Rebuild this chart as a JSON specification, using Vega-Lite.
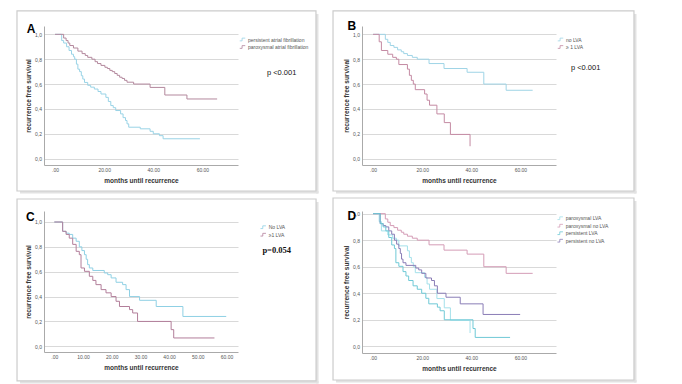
{
  "$schema": "https://vega.github.io/schema/vega-lite/v6.json",
  "background": "white",
  "padding": {"left": 16, "top": 10, "right": 0, "bottom": 0},
  "spacing": 3,
  "datasets": {
    "a": [
      {"g": "persistent atrial fibrillation", "t": 0, "s": 1},
      {"g": "persistent atrial fibrillation", "t": 2.7, "s": 0.95},
      {"g": "persistent atrial fibrillation", "t": 3.5, "s": 0.93},
      {"g": "persistent atrial fibrillation", "t": 4.7, "s": 0.9},
      {"g": "persistent atrial fibrillation", "t": 5.7, "s": 0.87},
      {"g": "persistent atrial fibrillation", "t": 6.7, "s": 0.84},
      {"g": "persistent atrial fibrillation", "t": 7.5, "s": 0.82},
      {"g": "persistent atrial fibrillation", "t": 8, "s": 0.8},
      {"g": "persistent atrial fibrillation", "t": 8.7, "s": 0.76},
      {"g": "persistent atrial fibrillation", "t": 9.3, "s": 0.72},
      {"g": "persistent atrial fibrillation", "t": 10, "s": 0.7},
      {"g": "persistent atrial fibrillation", "t": 10.7, "s": 0.667},
      {"g": "persistent atrial fibrillation", "t": 11.3, "s": 0.64},
      {"g": "persistent atrial fibrillation", "t": 12, "s": 0.613},
      {"g": "persistent atrial fibrillation", "t": 13.3, "s": 0.59},
      {"g": "persistent atrial fibrillation", "t": 14.5, "s": 0.575},
      {"g": "persistent atrial fibrillation", "t": 16, "s": 0.56},
      {"g": "persistent atrial fibrillation", "t": 17.5, "s": 0.54},
      {"g": "persistent atrial fibrillation", "t": 18.7, "s": 0.52},
      {"g": "persistent atrial fibrillation", "t": 20.7, "s": 0.493},
      {"g": "persistent atrial fibrillation", "t": 21.7, "s": 0.46},
      {"g": "persistent atrial fibrillation", "t": 22.7, "s": 0.427},
      {"g": "persistent atrial fibrillation", "t": 23.7, "s": 0.41},
      {"g": "persistent atrial fibrillation", "t": 24.7, "s": 0.387},
      {"g": "persistent atrial fibrillation", "t": 26.7, "s": 0.36},
      {"g": "persistent atrial fibrillation", "t": 27.7, "s": 0.33},
      {"g": "persistent atrial fibrillation", "t": 28.7, "s": 0.307},
      {"g": "persistent atrial fibrillation", "t": 29.3, "s": 0.28},
      {"g": "persistent atrial fibrillation", "t": 30, "s": 0.253},
      {"g": "persistent atrial fibrillation", "t": 34.7, "s": 0.24},
      {"g": "persistent atrial fibrillation", "t": 38.7, "s": 0.22},
      {"g": "persistent atrial fibrillation", "t": 40, "s": 0.2},
      {"g": "persistent atrial fibrillation", "t": 42.5, "s": 0.185},
      {"g": "persistent atrial fibrillation", "t": 44, "s": 0.16},
      {"g": "persistent atrial fibrillation", "t": 59, "s": 0.16},
      {"g": "paroxysmal atrial fibrillation", "t": 0, "s": 1},
      {"g": "paroxysmal atrial fibrillation", "t": 3.5, "s": 0.97},
      {"g": "paroxysmal atrial fibrillation", "t": 4.5, "s": 0.95},
      {"g": "paroxysmal atrial fibrillation", "t": 5.3, "s": 0.93},
      {"g": "paroxysmal atrial fibrillation", "t": 6, "s": 0.91},
      {"g": "paroxysmal atrial fibrillation", "t": 7.5, "s": 0.89},
      {"g": "paroxysmal atrial fibrillation", "t": 9.3, "s": 0.865},
      {"g": "paroxysmal atrial fibrillation", "t": 11, "s": 0.845},
      {"g": "paroxysmal atrial fibrillation", "t": 12.3, "s": 0.83},
      {"g": "paroxysmal atrial fibrillation", "t": 13.3, "s": 0.815},
      {"g": "paroxysmal atrial fibrillation", "t": 15, "s": 0.8},
      {"g": "paroxysmal atrial fibrillation", "t": 16.3, "s": 0.78},
      {"g": "paroxysmal atrial fibrillation", "t": 17.3, "s": 0.765},
      {"g": "paroxysmal atrial fibrillation", "t": 18.7, "s": 0.75},
      {"g": "paroxysmal atrial fibrillation", "t": 20.3, "s": 0.735},
      {"g": "paroxysmal atrial fibrillation", "t": 21.3, "s": 0.725},
      {"g": "paroxysmal atrial fibrillation", "t": 22.3, "s": 0.71},
      {"g": "paroxysmal atrial fibrillation", "t": 23.3, "s": 0.7},
      {"g": "paroxysmal atrial fibrillation", "t": 24.3, "s": 0.685},
      {"g": "paroxysmal atrial fibrillation", "t": 25.3, "s": 0.67},
      {"g": "paroxysmal atrial fibrillation", "t": 26.3, "s": 0.655},
      {"g": "paroxysmal atrial fibrillation", "t": 27.3, "s": 0.645},
      {"g": "paroxysmal atrial fibrillation", "t": 28.3, "s": 0.63},
      {"g": "paroxysmal atrial fibrillation", "t": 29.3, "s": 0.615},
      {"g": "paroxysmal atrial fibrillation", "t": 32, "s": 0.6},
      {"g": "paroxysmal atrial fibrillation", "t": 38.7, "s": 0.573},
      {"g": "paroxysmal atrial fibrillation", "t": 44.7, "s": 0.512},
      {"g": "paroxysmal atrial fibrillation", "t": 53.7, "s": 0.48},
      {"g": "paroxysmal atrial fibrillation", "t": 66, "s": 0.48}
    ],
    "b": [
      {"g": "no LVA", "d": "paroxysmal no LVA", "t": 0, "s": 1},
      {"g": "no LVA", "d": "paroxysmal no LVA", "t": 5, "s": 0.96},
      {"g": "no LVA", "d": "paroxysmal no LVA", "t": 6, "s": 0.935},
      {"g": "no LVA", "d": "paroxysmal no LVA", "t": 7, "s": 0.91},
      {"g": "no LVA", "d": "paroxysmal no LVA", "t": 8.5, "s": 0.895},
      {"g": "no LVA", "d": "paroxysmal no LVA", "t": 10, "s": 0.875},
      {"g": "no LVA", "d": "paroxysmal no LVA", "t": 11.5, "s": 0.86},
      {"g": "no LVA", "d": "paroxysmal no LVA", "t": 12.5, "s": 0.845},
      {"g": "no LVA", "d": "paroxysmal no LVA", "t": 14, "s": 0.83},
      {"g": "no LVA", "d": "paroxysmal no LVA", "t": 16, "s": 0.815},
      {"g": "no LVA", "d": "paroxysmal no LVA", "t": 18, "s": 0.8},
      {"g": "no LVA", "d": "paroxysmal no LVA", "t": 22.8, "s": 0.765},
      {"g": "no LVA", "d": "paroxysmal no LVA", "t": 28.9, "s": 0.725},
      {"g": "no LVA", "d": "paroxysmal no LVA", "t": 38.3, "s": 0.695},
      {"g": "no LVA", "d": "paroxysmal no LVA", "t": 45.1, "s": 0.6},
      {"g": "no LVA", "d": "paroxysmal no LVA", "t": 54.2, "s": 0.55},
      {"g": "no LVA", "d": "paroxysmal no LVA", "t": 65, "s": 0.55},
      {"g": "≥ 1 LVA", "d": "paroxysmal LVA", "t": 0, "s": 1},
      {"g": "≥ 1 LVA", "d": "paroxysmal LVA", "t": 2.5, "s": 0.94},
      {"g": "≥ 1 LVA", "d": "paroxysmal LVA", "t": 3.4, "s": 0.87},
      {"g": "≥ 1 LVA", "d": "paroxysmal LVA", "t": 6, "s": 0.84},
      {"g": "≥ 1 LVA", "d": "paroxysmal LVA", "t": 8, "s": 0.815},
      {"g": "≥ 1 LVA", "d": "paroxysmal LVA", "t": 9.5, "s": 0.8},
      {"g": "≥ 1 LVA", "d": "paroxysmal LVA", "t": 10.5, "s": 0.757},
      {"g": "≥ 1 LVA", "d": "paroxysmal LVA", "t": 14, "s": 0.72},
      {"g": "≥ 1 LVA", "d": "paroxysmal LVA", "t": 14.8, "s": 0.67},
      {"g": "≥ 1 LVA", "d": "paroxysmal LVA", "t": 15.6, "s": 0.63},
      {"g": "≥ 1 LVA", "d": "paroxysmal LVA", "t": 16.4, "s": 0.6},
      {"g": "≥ 1 LVA", "d": "paroxysmal LVA", "t": 17.2, "s": 0.555},
      {"g": "≥ 1 LVA", "d": "paroxysmal LVA", "t": 21, "s": 0.52},
      {"g": "≥ 1 LVA", "d": "paroxysmal LVA", "t": 22, "s": 0.47},
      {"g": "≥ 1 LVA", "d": "paroxysmal LVA", "t": 23, "s": 0.43},
      {"g": "≥ 1 LVA", "d": "paroxysmal LVA", "t": 26, "s": 0.36},
      {"g": "≥ 1 LVA", "d": "paroxysmal LVA", "t": 29, "s": 0.29},
      {"g": "≥ 1 LVA", "d": "paroxysmal LVA", "t": 31.5, "s": 0.195},
      {"g": "≥ 1 LVA", "d": "paroxysmal LVA", "t": 39.5, "s": 0.1}
    ],
    "c": [
      {"g": "No LVA", "d": "persistent no LVA", "t": 0, "s": 1},
      {"g": "No LVA", "d": "persistent no LVA", "t": 2.9, "s": 0.925},
      {"g": "No LVA", "d": "persistent no LVA", "t": 4.1, "s": 0.91},
      {"g": "No LVA", "d": "persistent no LVA", "t": 5.2, "s": 0.9},
      {"g": "No LVA", "d": "persistent no LVA", "t": 6.4, "s": 0.87},
      {"g": "No LVA", "d": "persistent no LVA", "t": 7.6, "s": 0.845},
      {"g": "No LVA", "d": "persistent no LVA", "t": 8.7, "s": 0.8},
      {"g": "No LVA", "d": "persistent no LVA", "t": 9.6, "s": 0.77},
      {"g": "No LVA", "d": "persistent no LVA", "t": 10.5, "s": 0.737},
      {"g": "No LVA", "d": "persistent no LVA", "t": 11.1, "s": 0.7},
      {"g": "No LVA", "d": "persistent no LVA", "t": 11.6, "s": 0.657},
      {"g": "No LVA", "d": "persistent no LVA", "t": 12.2, "s": 0.63},
      {"g": "No LVA", "d": "persistent no LVA", "t": 13.4, "s": 0.61},
      {"g": "No LVA", "d": "persistent no LVA", "t": 17.4, "s": 0.59},
      {"g": "No LVA", "d": "persistent no LVA", "t": 18.6, "s": 0.576},
      {"g": "No LVA", "d": "persistent no LVA", "t": 19.8, "s": 0.55},
      {"g": "No LVA", "d": "persistent no LVA", "t": 21.5, "s": 0.515},
      {"g": "No LVA", "d": "persistent no LVA", "t": 23.8, "s": 0.496},
      {"g": "No LVA", "d": "persistent no LVA", "t": 25, "s": 0.456},
      {"g": "No LVA", "d": "persistent no LVA", "t": 26.2, "s": 0.4},
      {"g": "No LVA", "d": "persistent no LVA", "t": 29.7, "s": 0.37},
      {"g": "No LVA", "d": "persistent no LVA", "t": 35.5, "s": 0.32},
      {"g": "No LVA", "d": "persistent no LVA", "t": 44.8, "s": 0.24},
      {"g": "No LVA", "d": "persistent no LVA", "t": 59.9, "s": 0.24},
      {"g": "≥1 LVA", "d": "persistent LVA", "t": 0, "s": 1},
      {"g": "≥1 LVA", "d": "persistent LVA", "t": 2.9, "s": 0.925},
      {"g": "≥1 LVA", "d": "persistent LVA", "t": 4.1, "s": 0.9},
      {"g": "≥1 LVA", "d": "persistent LVA", "t": 5.2, "s": 0.87},
      {"g": "≥1 LVA", "d": "persistent LVA", "t": 6.4, "s": 0.82},
      {"g": "≥1 LVA", "d": "persistent LVA", "t": 7.6, "s": 0.764},
      {"g": "≥1 LVA", "d": "persistent LVA", "t": 8.7, "s": 0.737},
      {"g": "≥1 LVA", "d": "persistent LVA", "t": 9.3, "s": 0.63},
      {"g": "≥1 LVA", "d": "persistent LVA", "t": 10.5, "s": 0.603},
      {"g": "≥1 LVA", "d": "persistent LVA", "t": 12.2, "s": 0.563},
      {"g": "≥1 LVA", "d": "persistent LVA", "t": 13.4, "s": 0.53},
      {"g": "≥1 LVA", "d": "persistent LVA", "t": 14.5, "s": 0.496},
      {"g": "≥1 LVA", "d": "persistent LVA", "t": 16.3, "s": 0.456},
      {"g": "≥1 LVA", "d": "persistent LVA", "t": 18, "s": 0.43},
      {"g": "≥1 LVA", "d": "persistent LVA", "t": 19.8, "s": 0.4},
      {"g": "≥1 LVA", "d": "persistent LVA", "t": 21.5, "s": 0.362},
      {"g": "≥1 LVA", "d": "persistent LVA", "t": 22.7, "s": 0.32},
      {"g": "≥1 LVA", "d": "persistent LVA", "t": 26.2, "s": 0.295},
      {"g": "≥1 LVA", "d": "persistent LVA", "t": 27.3, "s": 0.268},
      {"g": "≥1 LVA", "d": "persistent LVA", "t": 29, "s": 0.2},
      {"g": "≥1 LVA", "d": "persistent LVA", "t": 40.7, "s": 0.134},
      {"g": "≥1 LVA", "d": "persistent LVA", "t": 41.6, "s": 0.067},
      {"g": "≥1 LVA", "d": "persistent LVA", "t": 55.8, "s": 0.067}
    ]
  },
  "config": {
    "view": {"stroke": null},
    "font": "Liberation Sans",
    "axis": {
      "labelFont": "Liberation Sans", "labelFontSize": 5, "labelColor": "#555555", "labelOverlap": false,
      "titleFont": "Liberation Sans", "titleFontSize": 6.5, "titleFontWeight": "bold", "titleColor": "#333333",
      "ticks": false, "domainColor": "#aaaaaa", "domainWidth": 1, "gridColor": "#d9d9d9", "gridWidth": 1
    },
    "axisX": {"grid": false, "labelPadding": 2.5, "titlePadding": 5},
    "axisY": {"grid": true, "labelPadding": 2.5, "titlePadding": 3},
    "legend": {
      "labelFont": "Liberation Sans", "labelFontSize": 5, "labelColor": "#555555",
      "symbolType": "M-1,0.5H-0.15V-0.5H1", "symbolSize": 30, "symbolStrokeWidth": 0.8,
      "rowPadding": 0.5, "labelOffset": 2
    }
  },
  "resolve": {"scale": {"x": "independent", "y": "independent", "color": "independent"}},
  "vconcat": [
    {
      "spacing": 13,
      "resolve": {"scale": {"x": "independent", "y": "independent", "color": "independent"}},
      "hconcat": [
        {
          "width": 194, "height": 139,
          "layer": [
            {
              "data": {"name": "a"},
              "mark": {"type": "line", "interpolate": "step-after", "strokeWidth": 1},
              "encoding": {
                "x": {"field": "t", "type": "quantitative", "scale": {"domain": [-4.5, 74.5], "nice": false, "zero": false},
                      "axis": {"title": "months until recurrence", "values": [0, 20, 40, 60], "labelExpr": "datum.value == 0 ? '.00' : format(datum.value, '.2f')"}},
                "y": {"field": "s", "type": "quantitative", "scale": {"domain": [-0.051, 1.067], "nice": false, "zero": false},
                      "axis": {"title": "recurrence free survival", "values": [0, 0.2, 0.4, 0.6, 0.8, 1], "labelExpr": "replace(format(datum.value, '.1f'), '.', ',')"}},
                "color": {"field": "g", "type": "nominal",
                          "scale": {"domain": ["persistent atrial fibrillation", "paroxysmal atrial fibrillation"], "range": ["#99d3e6", "#b3889d"]},
                          "legend": {"title": null, "orient": "right", "padding": 10, "offset": -9.5}}
              }
            },
            {
              "data": {"values": [{}]},
              "mark": {"type": "rect", "fill": "#e2e2e2", "x2Offset": 2.5, "yOffset": 3, "y2Offset": 2.5},
              "encoding": {
                "x": {"datum": 106.25, "type": "quantitative", "axis": {"title": "months until recurrence", "values": [0, 20, 40, 60], "labelExpr": "datum.value == 0 ? '.00' : format(datum.value, '.2f')"}},
                "x2": {"datum": 106.25},
                "y": {"datum": 1.188, "type": "quantitative", "axis": {"title": "recurrence free survival", "values": [0, 0.2, 0.4, 0.6, 0.8, 1], "labelExpr": "replace(format(datum.value, '.1f'), '.', ',')"}},
                "y2": {"datum": -0.26}}
            },
            {
              "data": {"values": [{}]},
              "mark": {"type": "rect", "fill": "#e2e2e2", "xOffset": 3, "x2Offset": 2.5, "y2Offset": 2.5},
              "encoding": {
                "x": {"datum": -15.5, "type": "quantitative", "axis": {"title": "months until recurrence", "values": [0, 20, 40, 60], "labelExpr": "datum.value == 0 ? '.00' : format(datum.value, '.2f')"}},
                "x2": {"datum": 106.25},
                "y": {"datum": -0.26, "type": "quantitative", "axis": {"title": "recurrence free survival", "values": [0, 0.2, 0.4, 0.6, 0.8, 1], "labelExpr": "replace(format(datum.value, '.1f'), '.', ',')"}},
                "y2": {"datum": -0.26}}
            },
            {
              "data": {"values": [{}]},
              "mark": {"type": "rect", "fill": null, "stroke": "#cccccc", "strokeWidth": 1.2},
              "encoding": {
                "x": {"datum": -15.5, "type": "quantitative", "axis": {"title": "months until recurrence", "values": [0, 20, 40, 60], "labelExpr": "datum.value == 0 ? '.00' : format(datum.value, '.2f')"}},
                "x2": {"datum": 106.25},
                "y": {"datum": 1.188, "type": "quantitative", "axis": {"title": "recurrence free survival", "values": [0, 0.2, 0.4, 0.6, 0.8, 1], "labelExpr": "replace(format(datum.value, '.1f'), '.', ',')"}},
                "y2": {"datum": -0.26}}
            },
            {
              "data": {"values": [{}]},
              "mark": {"type": "text", "text": "A", "fontSize": 12, "fontWeight": "bold", "color": "#000000", "align": "center", "baseline": "middle"},
              "encoding": {
                "x": {"datum": -9.8, "type": "quantitative", "axis": {"title": "months until recurrence", "values": [0, 20, 40, 60], "labelExpr": "datum.value == 0 ? '.00' : format(datum.value, '.2f')"}},
                "y": {"datum": 1.043, "type": "quantitative", "axis": {"title": "recurrence free survival", "values": [0, 0.2, 0.4, 0.6, 0.8, 1], "labelExpr": "replace(format(datum.value, '.1f'), '.', ',')"}}}
            },
            {
              "data": {"values": [{}]},
              "mark": {"type": "text", "text": "p <0.001", "fontSize": 7.5, "color": "#111111", "align": "left", "baseline": "middle"},
              "encoding": {
                "x": {"datum": 86.3, "type": "quantitative", "axis": {"title": "months until recurrence", "values": [0, 20, 40, 60], "labelExpr": "datum.value == 0 ? '.00' : format(datum.value, '.2f')"}},
                "y": {"datum": 0.689, "type": "quantitative", "axis": {"title": "recurrence free survival", "values": [0, 0.2, 0.4, 0.6, 0.8, 1], "labelExpr": "replace(format(datum.value, '.1f'), '.', ',')"}}}
            }
          ]
        },
        {
          "width": 194, "height": 139,
          "layer": [
            {
              "data": {"name": "b"},
              "mark": {"type": "line", "interpolate": "step-after", "strokeWidth": 1},
              "encoding": {
                "x": {"field": "t", "type": "quantitative", "scale": {"domain": [-4.5, 74.5], "nice": false, "zero": false},
                      "axis": {"title": "months until recurrence", "values": [0, 20, 40, 60], "labelExpr": "datum.value == 0 ? '.00' : format(datum.value, '.2f')"}},
                "y": {"field": "s", "type": "quantitative", "scale": {"domain": [-0.051, 1.067], "nice": false, "zero": false},
                      "axis": {"title": "recurrence free survival", "values": [0, 0.2, 0.4, 0.6, 0.8, 1], "labelExpr": "replace(format(datum.value, '.1f'), '.', ',')"}},
                "color": {"field": "g", "type": "nominal",
                          "scale": {"domain": ["no LVA", "≥ 1 LVA"], "range": ["#9fd4e6", "#c48aa3"]},
                          "legend": {"title": null, "orient": "right", "padding": 10, "offset": -9.5}}
              }
            },
            {
              "data": {"values": [{}]},
              "mark": {"type": "rect", "fill": "#e2e2e2", "x2Offset": 2.5, "yOffset": 3, "y2Offset": 2.5},
              "encoding": {
                "x": {"datum": 106.25, "type": "quantitative", "axis": {"title": "months until recurrence", "values": [0, 20, 40, 60], "labelExpr": "datum.value == 0 ? '.00' : format(datum.value, '.2f')"}},
                "x2": {"datum": 106.25},
                "y": {"datum": 1.188, "type": "quantitative", "axis": {"title": "recurrence free survival", "values": [0, 0.2, 0.4, 0.6, 0.8, 1], "labelExpr": "replace(format(datum.value, '.1f'), '.', ',')"}},
                "y2": {"datum": -0.26}}
            },
            {
              "data": {"values": [{}]},
              "mark": {"type": "rect", "fill": "#e2e2e2", "xOffset": 3, "x2Offset": 2.5, "y2Offset": 2.5},
              "encoding": {
                "x": {"datum": -16.3, "type": "quantitative", "axis": {"title": "months until recurrence", "values": [0, 20, 40, 60], "labelExpr": "datum.value == 0 ? '.00' : format(datum.value, '.2f')"}},
                "x2": {"datum": 106.25},
                "y": {"datum": -0.26, "type": "quantitative", "axis": {"title": "recurrence free survival", "values": [0, 0.2, 0.4, 0.6, 0.8, 1], "labelExpr": "replace(format(datum.value, '.1f'), '.', ',')"}},
                "y2": {"datum": -0.26}}
            },
            {
              "data": {"values": [{}]},
              "mark": {"type": "rect", "fill": null, "stroke": "#cccccc", "strokeWidth": 1.2},
              "encoding": {
                "x": {"datum": -16.3, "type": "quantitative", "axis": {"title": "months until recurrence", "values": [0, 20, 40, 60], "labelExpr": "datum.value == 0 ? '.00' : format(datum.value, '.2f')"}},
                "x2": {"datum": 106.25},
                "y": {"datum": 1.188, "type": "quantitative", "axis": {"title": "recurrence free survival", "values": [0, 0.2, 0.4, 0.6, 0.8, 1], "labelExpr": "replace(format(datum.value, '.1f'), '.', ',')"}},
                "y2": {"datum": -0.26}}
            },
            {
              "data": {"values": [{}]},
              "mark": {"type": "text", "text": "B", "fontSize": 12, "fontWeight": "bold", "color": "#000000", "align": "center", "baseline": "middle"},
              "encoding": {
                "x": {"datum": -8.6, "type": "quantitative", "axis": {"title": "months until recurrence", "values": [0, 20, 40, 60], "labelExpr": "datum.value == 0 ? '.00' : format(datum.value, '.2f')"}},
                "y": {"datum": 1.069, "type": "quantitative", "axis": {"title": "recurrence free survival", "values": [0, 0.2, 0.4, 0.6, 0.8, 1], "labelExpr": "replace(format(datum.value, '.1f'), '.', ',')"}}}
            },
            {
              "data": {"values": [{}]},
              "mark": {"type": "text", "text": "p <0.001", "fontSize": 7.5, "color": "#111111", "align": "left", "baseline": "middle"},
              "encoding": {
                "x": {"datum": 80.6, "type": "quantitative", "axis": {"title": "months until recurrence", "values": [0, 20, 40, 60], "labelExpr": "datum.value == 0 ? '.00' : format(datum.value, '.2f')"}},
                "y": {"datum": 0.732, "type": "quantitative", "axis": {"title": "recurrence free survival", "values": [0, 0.2, 0.4, 0.6, 0.8, 1], "labelExpr": "replace(format(datum.value, '.1f'), '.', ',')"}}}
            }
          ]
        }
      ]
    },
    {
      "spacing": 13,
      "resolve": {"scale": {"x": "independent", "y": "independent", "color": "independent"}},
      "hconcat": [
        {
          "width": 194, "height": 141,
          "layer": [
            {
              "data": {"name": "c"},
              "mark": {"type": "line", "interpolate": "step-after", "strokeWidth": 1},
              "encoding": {
                "x": {"field": "t", "type": "quantitative", "scale": {"domain": [-3.6, 64], "nice": false, "zero": false},
                      "axis": {"title": "months until recurrence", "values": [0, 10, 20, 30, 40, 50, 60], "labelExpr": "datum.value == 0 ? '.00' : format(datum.value, '.2f')"}},
                "y": {"field": "s", "type": "quantitative", "scale": {"domain": [-0.046, 1.0885], "nice": false, "zero": false},
                      "axis": {"title": "recurrence free survival", "values": [0, 0.2, 0.4, 0.6, 0.8, 1], "labelExpr": "replace(format(datum.value, '.1f'), '.', ',')"}},
                "color": {"field": "g", "type": "nominal",
                          "scale": {"domain": ["No LVA", "≥1 LVA"], "range": ["#8fd0e4", "#b27e9a"]},
                          "legend": {"title": null, "orient": "right", "padding": 12.7, "offset": 9.3}}
              }
            },
            {
              "data": {"values": [{}]},
              "mark": {"type": "rect", "fill": "#e2e2e2", "x2Offset": 2.5, "yOffset": 3, "y2Offset": 2.5},
              "encoding": {
                "x": {"datum": 91.2, "type": "quantitative", "axis": {"title": "months until recurrence", "values": [0, 10, 20, 30, 40, 50, 60], "labelExpr": "datum.value == 0 ? '.00' : format(datum.value, '.2f')"}},
                "x2": {"datum": 91.2},
                "y": {"datum": 1.185, "type": "quantitative", "axis": {"title": "recurrence free survival", "values": [0, 0.2, 0.4, 0.6, 0.8, 1], "labelExpr": "replace(format(datum.value, '.1f'), '.', ',')"}},
                "y2": {"datum": -0.279}}
            },
            {
              "data": {"values": [{}]},
              "mark": {"type": "rect", "fill": "#e2e2e2", "xOffset": 3, "x2Offset": 2.5, "y2Offset": 2.5},
              "encoding": {
                "x": {"datum": -13.0, "type": "quantitative", "axis": {"title": "months until recurrence", "values": [0, 10, 20, 30, 40, 50, 60], "labelExpr": "datum.value == 0 ? '.00' : format(datum.value, '.2f')"}},
                "x2": {"datum": 91.2},
                "y": {"datum": -0.279, "type": "quantitative", "axis": {"title": "recurrence free survival", "values": [0, 0.2, 0.4, 0.6, 0.8, 1], "labelExpr": "replace(format(datum.value, '.1f'), '.', ',')"}},
                "y2": {"datum": -0.279}}
            },
            {
              "data": {"values": [{}]},
              "mark": {"type": "rect", "fill": null, "stroke": "#cccccc", "strokeWidth": 1.2},
              "encoding": {
                "x": {"datum": -13.0, "type": "quantitative", "axis": {"title": "months until recurrence", "values": [0, 10, 20, 30, 40, 50, 60], "labelExpr": "datum.value == 0 ? '.00' : format(datum.value, '.2f')"}},
                "x2": {"datum": 91.2},
                "y": {"datum": 1.185, "type": "quantitative", "axis": {"title": "recurrence free survival", "values": [0, 0.2, 0.4, 0.6, 0.8, 1], "labelExpr": "replace(format(datum.value, '.1f'), '.', ',')"}},
                "y2": {"datum": -0.279}}
            },
            {
              "data": {"values": [{}]},
              "mark": {"type": "text", "text": "C", "fontSize": 12, "fontWeight": "bold", "color": "#000000", "align": "center", "baseline": "middle"},
              "encoding": {
                "x": {"datum": -8.4, "type": "quantitative", "axis": {"title": "months until recurrence", "values": [0, 10, 20, 30, 40, 50, 60], "labelExpr": "datum.value == 0 ? '.00' : format(datum.value, '.2f')"}},
                "y": {"datum": 1.0386, "type": "quantitative", "axis": {"title": "recurrence free survival", "values": [0, 0.2, 0.4, 0.6, 0.8, 1], "labelExpr": "replace(format(datum.value, '.1f'), '.', ',')"}}}
            },
            {
              "data": {"values": [{}]},
              "mark": {"type": "text", "text": "p=0.054", "font": "Liberation Serif", "fontWeight": "bold", "fontSize": 8.5, "color": "#111111", "align": "left", "baseline": "middle"},
              "encoding": {
                "x": {"datum": 72.5, "type": "quantitative", "axis": {"title": "months until recurrence", "values": [0, 10, 20, 30, 40, 50, 60], "labelExpr": "datum.value == 0 ? '.00' : format(datum.value, '.2f')"}},
                "y": {"datum": 0.776, "type": "quantitative", "axis": {"title": "recurrence free survival", "values": [0, 0.2, 0.4, 0.6, 0.8, 1], "labelExpr": "replace(format(datum.value, '.1f'), '.', ',')"}}}
            }
          ]
        },
        {
          "width": 194, "height": 142,
          "layer": [
            {
              "data": {"name": "b"},
              "mark": {"type": "line", "interpolate": "step-after", "strokeWidth": 1},
              "encoding": {
                "x": {"field": "t", "type": "quantitative", "scale": {"domain": [-4.5, 74.5], "nice": false, "zero": false},
                      "axis": {"title": "months until recurrence", "values": [0, 20, 40, 60], "labelExpr": "datum.value == 0 ? '.00' : format(datum.value, '.2f')"}},
                "y": {"field": "s", "type": "quantitative", "scale": {"domain": [-0.0505, 1.02], "nice": false, "zero": false},
                      "axis": {"title": "recurrence free survival", "values": [0, 0.2, 0.4, 0.6, 0.8, 1], "labelExpr": "replace(format(datum.value, '.1f'), '.', ',')"}},
                "color": {"field": "d", "type": "nominal",
                          "scale": {"domain": ["paroxysmal LVA", "paroxysmal no LVA", "persistent LVA", "persistent no LVA"], "range": ["#a4e0ea", "#d49cb6", "#6fc9d6", "#8a7db6"]},
                          "legend": {"title": null, "orient": "right", "padding": 3.7, "offset": -2.7}}
              }
            },
            {
              "data": {"name": "c"},
              "mark": {"type": "line", "interpolate": "step-after", "strokeWidth": 1},
              "encoding": {
                "x": {"field": "t", "type": "quantitative", "axis": {"title": "months until recurrence", "values": [0, 20, 40, 60], "labelExpr": "datum.value == 0 ? '.00' : format(datum.value, '.2f')"}},
                "y": {"field": "s", "type": "quantitative", "axis": {"title": "recurrence free survival", "values": [0, 0.2, 0.4, 0.6, 0.8, 1], "labelExpr": "replace(format(datum.value, '.1f'), '.', ',')"}},
                "color": {"field": "d", "type": "nominal"}
              }
            },
            {
              "data": {"values": [{}]},
              "mark": {"type": "rect", "fill": "#e2e2e2", "x2Offset": 2.5, "yOffset": 3, "y2Offset": 2.5},
              "encoding": {
                "x": {"datum": 106.25, "type": "quantitative", "axis": {"title": "months until recurrence", "values": [0, 20, 40, 60], "labelExpr": "datum.value == 0 ? '.00' : format(datum.value, '.2f')"}},
                "x2": {"datum": 106.25},
                "y": {"datum": 1.118, "type": "quantitative", "axis": {"title": "recurrence free survival", "values": [0, 0.2, 0.4, 0.6, 0.8, 1], "labelExpr": "replace(format(datum.value, '.1f'), '.', ',')"}},
                "y2": {"datum": -0.254}}
            },
            {
              "data": {"values": [{}]},
              "mark": {"type": "rect", "fill": "#e2e2e2", "xOffset": 3, "x2Offset": 2.5, "y2Offset": 2.5},
              "encoding": {
                "x": {"datum": -16.3, "type": "quantitative", "axis": {"title": "months until recurrence", "values": [0, 20, 40, 60], "labelExpr": "datum.value == 0 ? '.00' : format(datum.value, '.2f')"}},
                "x2": {"datum": 106.25},
                "y": {"datum": -0.254, "type": "quantitative", "axis": {"title": "recurrence free survival", "values": [0, 0.2, 0.4, 0.6, 0.8, 1], "labelExpr": "replace(format(datum.value, '.1f'), '.', ',')"}},
                "y2": {"datum": -0.254}}
            },
            {
              "data": {"values": [{}]},
              "mark": {"type": "rect", "fill": null, "stroke": "#cccccc", "strokeWidth": 1.2},
              "encoding": {
                "x": {"datum": -16.3, "type": "quantitative", "axis": {"title": "months until recurrence", "values": [0, 20, 40, 60], "labelExpr": "datum.value == 0 ? '.00' : format(datum.value, '.2f')"}},
                "x2": {"datum": 106.25},
                "y": {"datum": 1.118, "type": "quantitative", "axis": {"title": "recurrence free survival", "values": [0, 0.2, 0.4, 0.6, 0.8, 1], "labelExpr": "replace(format(datum.value, '.1f'), '.', ',')"}},
                "y2": {"datum": -0.254}}
            },
            {
              "data": {"values": [{}]},
              "mark": {"type": "text", "text": "D", "fontSize": 12, "fontWeight": "bold", "color": "#000000", "align": "center", "baseline": "middle"},
              "encoding": {
                "x": {"datum": -8.6, "type": "quantitative", "axis": {"title": "months until recurrence", "values": [0, 20, 40, 60], "labelExpr": "datum.value == 0 ? '.00' : format(datum.value, '.2f')"}},
                "y": {"datum": 0.985, "type": "quantitative", "axis": {"title": "recurrence free survival", "values": [0, 0.2, 0.4, 0.6, 0.8, 1], "labelExpr": "replace(format(datum.value, '.1f'), '.', ',')"}}}
            }
          ]
        }
      ]
    }
  ]
}
